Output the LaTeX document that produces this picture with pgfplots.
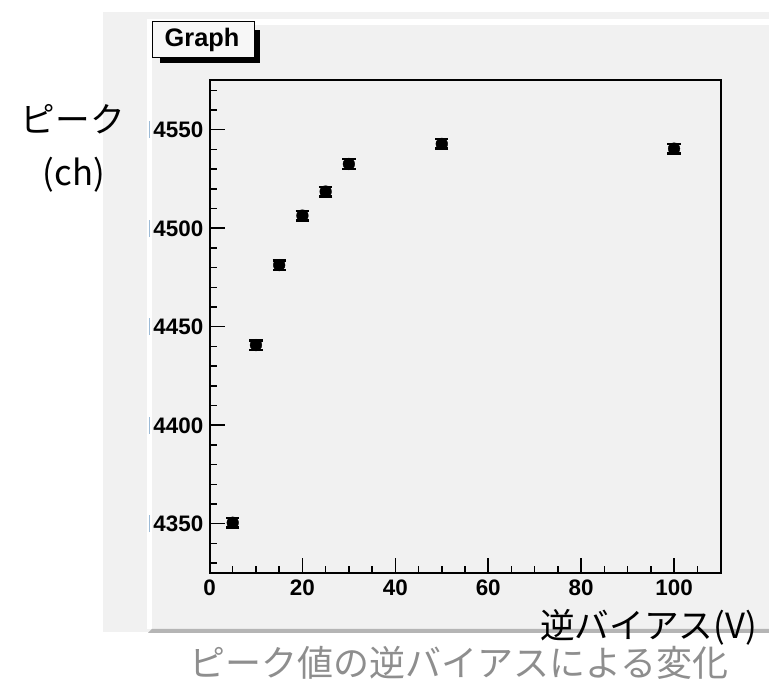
\documentclass[border=0pt]{standalone}
\usepackage{pgfplots}
\usepackage{pgfplotstable}
\pgfplotsset{compat=1.18}
\usepackage{fontspec}
\setmainfont{Liberation Sans}
\newfontfamily\jpfont{Noto Sans CJK JP}

\definecolor{canvasgray}{HTML}{F1F1F1}
\definecolor{shadowgray}{HTML}{B5B5B5}
\definecolor{captiongray}{HTML}{8E8E8E}
\definecolor{cursorblue}{HTML}{9DBBD6}

% peak position (ch) versus reverse bias (V)
\pgfplotstableread{
V    peak
5    4350.5
10   4440.7
15   4481.3
20   4506.4
25   4518.6
30   4532.6
50   4542.8
100  4540.4
}\peaktable

\begin{document}
\begin{tikzpicture}[x=0.75pt,y=0.75pt]
\useasboundingbox (0,0) rectangle (769,685);
\clip (0,0) rectangle (769,685);

% canvas and pad with bevel
\fill[canvasgray] (103,53) rectangle (769,673);
\fill[white] (147,56) rectangle (769,666);
\fill[canvasgray] (152,56) rectangle (769,660);
\fill[shadowgray] (148,52) -- (152,56) -- (769,56) -- (769,52) -- cycle;

\begin{axis}[
  at={(157.125pt,84pt)}, anchor=south west,
  scale only axis, width=383.25pt, height=369.4pt,
  xmin=0, xmax=110, ymin=4325, ymax=4575,
  axis background/.style={fill=canvasgray},
  axis line style={line width=1.5pt},
  xtick={0,20,...,100},
  ytick={4350,4400,...,4550},
  minor xtick={5,10,...,105},
  minor ytick={4330,4340,...,4570},
  tick pos=left, tick align=inside,
  major tick length=11.25pt, minor tick length=5.25pt,
  every tick/.style={line width=1.1pt, black},
  scaled ticks=false,
  /pgf/number format/assume math mode=true,
  /pgf/number format/1000 sep={},
  ticklabel style={font=\fontsize{16.8}{16.8}\selectfont\bfseries, inner sep=0pt},
  yticklabel style={anchor=east, xshift=-4.5pt},
  xticklabel style={anchor=north, yshift=-5pt},
  yticklabel={\textcolor{cursorblue}{\rule[-0.02em]{1.1pt}{0.74em}}\hspace{2.5pt}\pgfmathprintnumber{\tick}},
]
\addplot[only marks, mark=*, mark size=4.4pt,
  mark options={fill=black, draw=black, line width=0.3pt},
  error bars/.cd, y dir=both, y fixed=2.4, error mark=|,
  error bar style={line width=1.6pt, black},
  error mark options={line width=1.8pt, mark size=5pt, black}]
  table[x=V, y=peak] {\peaktable};
\end{axis}

% title box with drop shadow
\fill[black] (160,622) rectangle (260,655);
\draw[fill=white!40!canvasgray, line width=0.75pt] (152,627) rectangle (254,663);
\node[anchor=base, inner sep=0pt, font=\fontsize{19}{19}\selectfont\bfseries] at (202,638) {Graph};

% axis titles
\node[inner sep=0pt, font=\jpfont\fontsize{26}{26}\selectfont] at (73,566) {ピーク};
\node[inner sep=0pt, font=\jpfont\fontsize{26}{26}\selectfont] at (74,510) {(ch)};
\node[anchor=west, inner sep=0pt, font=\jpfont\fontsize{26}{26}\selectfont] at (540,58) {逆バイアス(V)};

% caption
\node[inner sep=0pt, text=captiongray, font=\jpfont\fontsize{27}{27}\selectfont] at (459,22) {ピーク値の逆バイアスによる変化};
\end{tikzpicture}
\end{document}
